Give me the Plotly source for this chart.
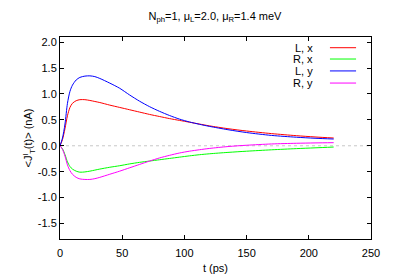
import plotly.graph_objects as go

# time axis (ps)
t = [0, 2, 4, 6, 8, 10, 13, 16, 20, 24, 28, 32, 40, 48, 56, 64, 72, 80, 88, 96,
     104, 112, 120, 135, 150, 170, 190, 205, 220]

L_x = [0, 0.12, 0.33, 0.58, 0.74, 0.82, 0.87, 0.89, 0.89, 0.875, 0.855, 0.835, 0.785,
       0.74, 0.695, 0.65, 0.605, 0.565, 0.525, 0.49, 0.455, 0.42, 0.385, 0.33, 0.285,
       0.235, 0.195, 0.17, 0.15]
R_x = [0, -0.06, -0.17, -0.31, -0.40, -0.45, -0.49, -0.51, -0.505, -0.49, -0.47,
       -0.45, -0.415, -0.385, -0.35, -0.32, -0.295, -0.27, -0.245, -0.22, -0.195,
       -0.173, -0.155, -0.128, -0.105, -0.078, -0.055, -0.04, -0.025]
L_y = [0, 0.15, 0.42, 0.82, 1.05, 1.17, 1.27, 1.32, 1.345, 1.35, 1.335, 1.30, 1.21,
       1.11, 0.98, 0.86, 0.755, 0.665, 0.585, 0.515, 0.46, 0.415, 0.375, 0.31, 0.255,
       0.2, 0.165, 0.145, 0.13]
R_y = [0, -0.07, -0.20, -0.37, -0.48, -0.55, -0.61, -0.64, -0.65, -0.65, -0.635,
       -0.61, -0.55, -0.49, -0.425, -0.36, -0.295, -0.235, -0.185, -0.14, -0.105,
       -0.077, -0.052, -0.015, 0.01, 0.035, 0.048, 0.055, 0.06]

names = ["L, x", "R, x", "L, y", "R, y"]
series = [L_x, R_x, L_y, R_y]
colors = ["#ff0000", "#00ff00", "#0000ff", "#ff00ff"]

x_ticks = [0, 50, 100, 150, 200, 250]
y_ticks = [-1.5, -1.0, -0.5, 0.0, 0.5, 1.0, 1.5, 2.0]

FONT = "Liberation Sans, Arial, sans-serif"

fig = go.Figure()
for name, ys, c in zip(names, series, colors):
    fig.add_trace(go.Scatter(x=t, y=ys, mode="lines", name=name,
                             line=dict(color=c, width=1, shape="spline", smoothing=0.8),
                             showlegend=False))

# zero reference line (dotted)
fig.add_shape(type="line", xref="paper", yref="y", x0=0, x1=1, y0=0, y1=0,
              line=dict(color="#c8c8c8", width=1, dash="dot"), layer="below")

# gnuplot-style key: text then line sample
key_rows = [0.947, 0.891, 0.832, 0.772]
for name, c, yy in zip(names, colors, key_rows):
    fig.add_annotation(xref="paper", yref="paper", x=0.82, y=yy, text=name,
                       showarrow=False, xanchor="right", yanchor="middle",
                       font=dict(family=FONT, size=11, color="black"))
    fig.add_shape(type="line", xref="paper", yref="paper", x0=0.868, x1=0.952,
                  y0=yy, y1=yy, line=dict(color=c, width=1))

axis_common = dict(showgrid=False, zeroline=False, showline=True, linecolor="black",
                   linewidth=1, mirror="ticks", ticks="inside", ticklen=4,
                   tickcolor="black", automargin=False,
                   tickfont=dict(family=FONT, size=11, color="black"))

# page body has an 8px default margin, so the figure is 8px smaller and shifted
fig.update_layout(
    width=391, height=271,
    margin=dict(l=52, r=28, t=29, b=40),
    paper_bgcolor="white", plot_bgcolor="white",
    title=dict(text="N<sub>ph</sub>=1, μ<sub>L</sub>=2.0, μ<sub>R</sub>=1.4 meV",
               x=(215 - 8) / 391, xanchor="center", y=1 - (16 - 8) / 271,
               yanchor="middle",
               font=dict(family=FONT, size=11, color="black")),
    xaxis=dict(range=[0, 250], tickvals=x_ticks, ticktext=[str(v) for v in x_ticks],
               ticklabelstandoff=4,
               title=dict(text="t (ps)", font=dict(family=FONT, size=11, color="black"),
                          standoff=6),
               **axis_common),
    yaxis=dict(range=[-1.8, 2.1], tickvals=y_ticks,
               ticktext=[f"{v:.1f}" for v in y_ticks],
               title=dict(text="&lt;J<sup>l</sup><sub>T</sub>(t)&gt; (nA)",
                          font=dict(family=FONT, size=11, color="black"), standoff=2),
               **axis_common),
)

fig.write_html("out.html")
